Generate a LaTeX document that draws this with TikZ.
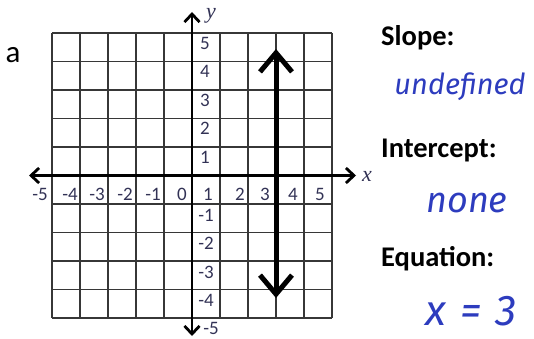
\documentclass[tikz,border=0pt]{standalone}
\usepackage{fontspec}
\setmainfont{Carlito}
\newfontfamily\handfont{Fira Sans}
\newfontfamily\axfont{Liberation Serif}
\usetikzlibrary{arrows.meta}
\definecolor{gridc}{RGB}{55,55,55}
\definecolor{numc}{RGB}{50,50,85}
\definecolor{inkblue}{RGB}{45,60,190}
\tikzset{
  gridline/.style={draw=gridc, line width=1.4pt},
  axisline/.style={draw=black, line width=2.8pt, {Straight Barb[length=8pt,width=15pt]}-{Straight Barb[length=8pt,width=15pt]}},
  graphline/.style={draw=black, line width=5pt, {Straight Barb[length=19pt,width=32pt]}-{Straight Barb[length=19pt,width=32pt]}},
  numlbl/.style={text=numc, font=\fontsize{19}{20}\selectfont, inner sep=0pt},
  axlbl/.style={text=numc, font=\axfont\itshape\fontsize{22}{24}\selectfont, inner sep=0pt},
  headlbl/.style={text=black, font=\bfseries\fontsize{28.5}{30}\selectfont, inner sep=0pt, anchor=west},
  handlbl/.style={text=inkblue, inner sep=0pt},
}
\begin{document}
\begin{tikzpicture}[x=1pt,y=-1pt]
\useasboundingbox (0,0) rectangle (534,339);
% grid
\foreach \i in {0,...,10} {
  \draw[gridline] (52+28*\i,33) -- (52+28*\i,318);
  \draw[gridline] (52,33+28.5*\i) -- (332,33+28.5*\i);
}
% axes
\coordinate (xl) at (29,175.5);
\coordinate (xr) at (356,175.5);
\coordinate (yt) at (192,12);
\coordinate (yb) at (192,336);
\draw[axisline] (xl) -- (xr);
\draw[axisline] (yb) -- (yt);
% graph line x = 3
\coordinate (lt) at (276,49);
\coordinate (lb) at (276,298);
\draw[graphline] (lb) -- (lt);
% axis names
\node[axlbl] (ylab) at (211,16) {y};
\node[axlbl] (xlab) at (367,176) {x};
% y numbers
\node[numlbl] (y5) at (205,43) {5};
\node[numlbl] (y4) at (205,71) {4};
\node[numlbl] (y3) at (205,100) {3};
\node[numlbl] (y2) at (205,128) {2};
\node[numlbl] (y1) at (205,157) {1};
\node[numlbl] (ym1) at (206,215) {-1};
\node[numlbl] (ym2) at (206,243) {-2};
\node[numlbl] (ym3) at (206,272) {-3};
\node[numlbl] (ym4) at (206,300) {-4};
\node[numlbl] (ym5) at (211,328) {-5};
% x numbers
\node[numlbl] (xm5) at (40,194) {-5};
\node[numlbl] (xm4) at (70,194) {-4};
\node[numlbl] (xm3) at (97,194) {-3};
\node[numlbl] (xm2) at (125,194) {-2};
\node[numlbl] (xm1) at (153,194) {-1};
\node[numlbl] (x0) at (182,194) {0};
\node[numlbl] (x1) at (208,194) {1};
\node[numlbl] (x2) at (240,194) {2};
\node[numlbl] (x3) at (265,194) {3};
\node[numlbl] (x4) at (293,194) {4};
\node[numlbl] (x5) at (320,194) {5};
% part label
\node[text=black, font=\fontsize{31}{32}\selectfont, inner sep=0pt] (parta) at (13,55) {a};
% right side
\node[headlbl] (slope) at (381,38) {Slope:};
\node[handlbl, font=\handfont\itshape\fontsize{29}{30}\selectfont] (slopeval) at (460,87) {undefined};
\node[headlbl] (icpt) at (381,150) {Intercept:};
\node[handlbl, font=\handfont\itshape\fontsize{36}{38}\selectfont] (icptval) at (467,203) {none};
\node[headlbl] (eqn) at (381,259) {Equation:};
\node[handlbl, anchor=base, font=\handfont\itshape\fontsize{43}{44}\selectfont] (eqnval) at (471,325) {x\hspace{14pt}=\hspace{14pt}3};
\end{tikzpicture}
\end{document}
